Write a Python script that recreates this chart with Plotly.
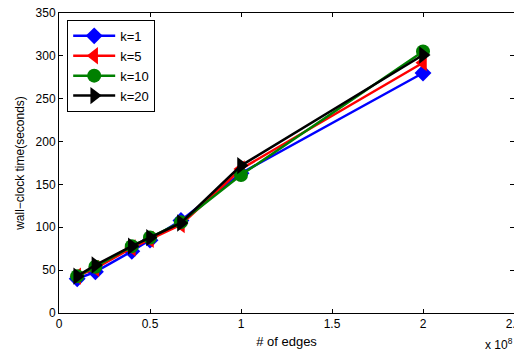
import plotly.graph_objects as go

edges = [1.0e7, 2.0e7, 4.0e7, 5.0e7, 6.7e7, 1.0e8, 2.0e8]
k1 = [40, 48, 72, 85, 108, 163, 280]
k5 = [43, 52, 76, 86, 103, 168, 292]
k10 = [43, 54, 78, 88, 106, 161, 305]
k20 = [43, 56, 78, 88, 105, 172, 301]

series = [
    ("k=1", k1, "#0000ff", "diamond", 13),
    ("k=5", k5, "#ff0000", "triangle-left", 15),
    ("k=10", k10, "#008000", "circle", 14),
    ("k=20", k20, "#000000", "triangle-right", 15),
]

xtick_vals = [0, 0.5e8, 1.0e8, 1.5e8, 2.0e8, 2.5e8]
xtick_text = ["0", "0.5", "1", "1.5", "2", "2.5"]
ytick_vals = [0, 50, 100, 150, 200, 250, 300, 350]

fig = go.Figure()
for name, ys, color, sym, sz in series:
    fig.add_trace(go.Scatter(
        x=edges, y=ys, name=name, mode="lines+markers",
        line=dict(color=color, width=2.5),
        marker=dict(symbol=sym, size=sz, color=color, line=dict(width=0)),
    ))

fam = "Liberation Sans, Arial, sans-serif"
font = dict(family=fam, size=12, color="black")
fig.update_layout(
    width=514, height=348,
    margin=dict(l=51, r=8, t=5, b=43, autoexpand=False),
    paper_bgcolor="white", plot_bgcolor="white",
    font=font,
    showlegend=True,
    legend=dict(
        x=0.018, y=0.977, xanchor="left", yanchor="top",
        bordercolor="black", borderwidth=1, bgcolor="white",
        font=dict(family=fam, size=13, color="black"),
        tracegroupgap=0, itemsizing="trace", itemwidth=42,
    ),
    xaxis=dict(
        range=[0, 2.5e8], tickvals=xtick_vals, ticktext=xtick_text, automargin=False,
        ticks="inside", ticklen=4, tickcolor="black", mirror="ticks",
        showline=True, linecolor="black", linewidth=1, showgrid=False, zeroline=False,
        tickfont=dict(size=12), ticklabeloverflow="allow",
        title=dict(text="# of edges", standoff=6, font=dict(size=13)),
    ),
    yaxis=dict(
        range=[0, 350], tickvals=ytick_vals, automargin=False,
        ticks="inside", ticklen=4, tickcolor="black", mirror="ticks",
        showline=True, linecolor="black", linewidth=1, showgrid=False, zeroline=False,
        tickfont=dict(size=12), ticklabeloverflow="allow",
        title=dict(text="wall\u2212clock time(seconds)", standoff=8, font=dict(size=12)),
    ),
    annotations=[dict(
        text="x 10<sup>8</sup>", xref="paper", yref="paper", x=1.003, y=-0.07,
        xanchor="right", yanchor="top", showarrow=False, font=dict(size=12),
    )],
)

fig.write_html("out.html")
